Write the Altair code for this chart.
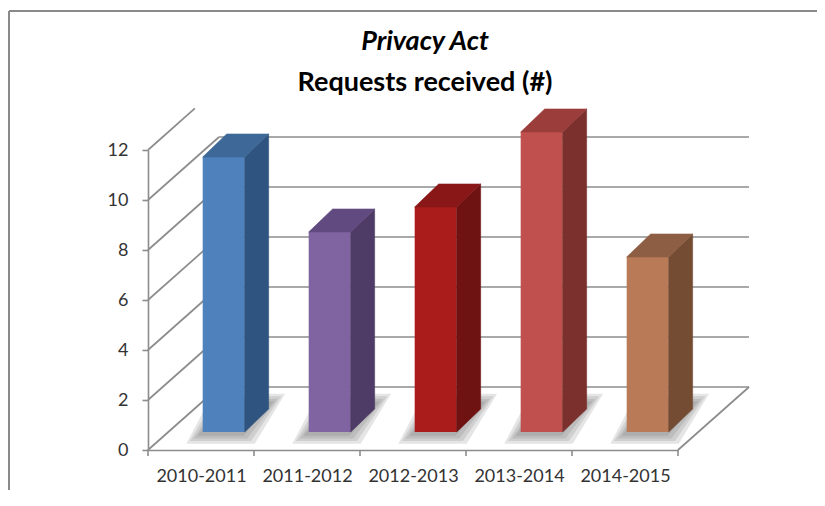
import altair as alt
import pandas as pd

# ---------------- data ----------------
categories = ["2010-2011", "2011-2012", "2012-2013", "2013-2014", "2014-2015"]
values = [11, 8, 9, 12, 7]
front_colors = ["#4F81BD", "#8064A2", "#AA1C1C", "#C0504D", "#B97A57"]
side_colors = ["#2F5480", "#4E3C66", "#6E1212", "#7B302E", "#744C33"]
top_colors = ["#3D6897", "#614A80", "#8A1717", "#9A3D3B", "#8E5E44"]
y_ticks = [0, 2, 4, 6, 8, 10, 12]
back_levels = [0, 2, 4, 6, 8, 10]

# ---------------- pseudo-3D geometry (data units) ----------------
N = len(categories)
WALL_DX, WALL_DY = 0.67, 2.52      # depth of the walls/floor
BAR_OFF, BAR_W = 0.516, 0.396      # bar front face inside its band
BAR_DX, BAR_DY = 0.226, 0.92       # bar depth
BAR_BASE = 0.72                    # bar front bottom on the floor
TOP_WALL_FRAC = 0.66
LINE = "#8c8c8c"
FONT = "Lato"

xs = alt.Scale(domain=[0, N], nice=False, zero=False)
ys = alt.Scale(domain=[0, 12], nice=False, zero=False)
label_expr = "[" + ",".join("'%s'" % c for c in categories) + "][floor(datum.value)]"
xax = alt.Axis(values=[i + 0.5 for i in range(N)], labelExpr=label_expr, ticks=False,
               grid=False, domainColor=LINE, domainWidth=1.6, labelFont=FONT,
               labelFontSize=18, labelColor="#333333", labelPadding=17, title=None)
yax = alt.Axis(values=y_ticks, grid=False, domainColor=LINE, domainWidth=1.6,
               tickColor=LINE, tickWidth=1.6, tickSize=6, labelFont=FONT,
               labelFontSize=18, labelColor="#333333", labelPadding=14, title=None)


def X(f):
    return alt.X(f, type="quantitative", scale=xs, axis=xax)


def Y(f):
    return alt.Y(f, type="quantitative", scale=ys, axis=yax)


front, side, topf, shadow = [], [], [], []
for i, (c, v) in enumerate(zip(categories, values)):
    xl = i + BAR_OFF
    xr = xl + BAR_W
    top = BAR_BASE + v
    front.append(dict(cat=c, x=xl, x2=xr, y=BAR_BASE, y2=top, color=front_colors[i]))
    side += [dict(cat=c, x=xr, y=top, y2=BAR_BASE, color=side_colors[i]),
             dict(cat=c, x=xr + BAR_DX, y=top + BAR_DY, y2=BAR_BASE + BAR_DY, color=side_colors[i])]
    topf += [dict(cat=c, y=top, x=xl, x2=xr, color=top_colors[i]),
             dict(cat=c, y=top + BAR_DY, x=xl + BAR_DX, x2=xr + BAR_DX, color=top_colors[i])]
    for k, e in enumerate([0.0, 0.035, 0.07, 0.105]):
        sid = "%s-%d" % (c, k)
        shadow += [dict(sid=sid, y=BAR_BASE - 0.15 - 3 * e, x=xl - 0.05 - e, x2=xr - 0.01 + e),
                   dict(sid=sid, y=BAR_BASE + BAR_DY + 0.3 + 3 * e,
                        x=xl + 0.2 - e, x2=xr + BAR_DX + 0.05 + e)]

segs = []
for v in y_ticks:
    f = 1.0 if v < 12 else TOP_WALL_FRAC
    segs.append(dict(x=0, y=v, x2=WALL_DX * f, y2=v + WALL_DY * f))
for v in back_levels:
    segs.append(dict(x=WALL_DX, y=v + WALL_DY, x2=N + WALL_DX, y2=v + WALL_DY))
segs.append(dict(x=N, y=0, x2=N + WALL_DX, y2=WALL_DY))

xticks = pd.DataFrame(dict(x=list(range(N + 1)), y=[0] * (N + 1), y2=[-0.24] * (N + 1)))

lines = alt.Chart(pd.DataFrame(segs)).mark_rule(color=LINE, strokeWidth=1.7).encode(
    x=X("x"), y=Y("y"), x2="x2", y2="y2")
ticks = alt.Chart(xticks).mark_rule(color=LINE, strokeWidth=1.6).encode(
    x=X("x"), y=Y("y"), y2="y2")
shadows = alt.Chart(pd.DataFrame(shadow)).mark_area(
    orient="horizontal", color="#646464", opacity=0.17).encode(
    y=Y("y"), x=X("x"), x2="x2", detail="sid:N")
fronts = alt.Chart(pd.DataFrame(front)).mark_rect().encode(
    x=X("x"), x2="x2", y=Y("y"), y2="y2", color=alt.Color("color:N", scale=None))
sides = alt.Chart(pd.DataFrame(side)).mark_area(strokeWidth=0.6).encode(
    x=X("x"), y=Y("y"), y2="y2", detail="cat:N",
    color=alt.Color("color:N", scale=None), stroke=alt.Stroke("color:N", scale=None))
tops = alt.Chart(pd.DataFrame(topf)).mark_area(orient="horizontal", strokeWidth=0.6).encode(
    y=Y("y"), x=X("x"), x2="x2", detail="cat:N",
    color=alt.Color("color:N", scale=None), stroke=alt.Stroke("color:N", scale=None))

frame_df = pd.DataFrame({"k": [0]})
frame_left = alt.Chart(frame_df).mark_rule(color="#8a8a8a", strokeWidth=2).encode(
    x=alt.value(-139), y=alt.value(-139), y2=alt.value(400))
frame_top = alt.Chart(frame_df).mark_rule(color="#8a8a8a", strokeWidth=2).encode(
    x=alt.value(-139), x2=alt.value(720), y=alt.value(-139))

chart = alt.layer(frame_left, frame_top, lines, ticks, shadows, fronts, sides, tops).properties(
    width=530, height=300,
    autosize=alt.AutoSizeParams(type="none"),
    padding={"left": 140, "top": 142, "right": 139, "bottom": 40},
    view=alt.ViewConfig(stroke="transparent", strokeWidth=0),
    title=alt.Title("Privacy Act", subtitle="Requests received (#)", font=FONT, fontSize=27,
                    fontWeight="bold", fontStyle="italic", color="black",
                    subtitleFont=FONT, subtitleFontSize=27, subtitleFontWeight="bold",
                    subtitleFontStyle="normal", subtitleColor="black", subtitlePadding=14,
                    anchor="middle", dx=12, offset=-87),
).configure_view(stroke="transparent", strokeWidth=0).configure(background="white")

chart.save("out.html", embed_options={"renderer": "svg", "actions": False})
